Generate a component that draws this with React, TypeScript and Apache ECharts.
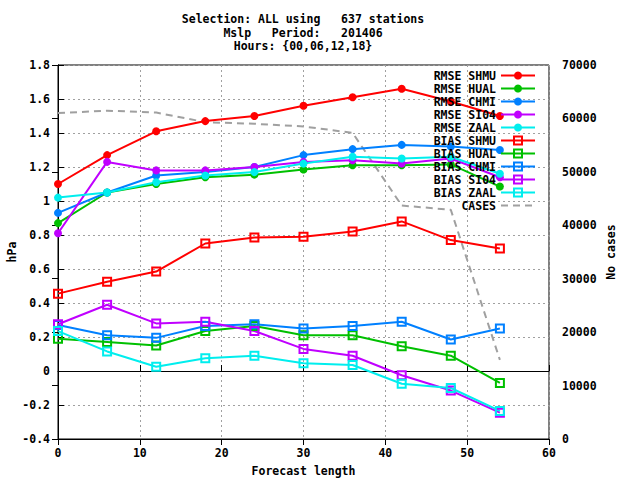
import { useEffect, useRef } from "react";
import * as echarts from "echarts";

const leadTimes = [0, 6, 12, 18, 24, 30, 36, 42, 48, 54];

const rmseShmu = [1.1, 1.27, 1.41, 1.47, 1.5, 1.56, 1.61, 1.66, 1.585, 1.5];
const rmseHual = [0.87, 1.05, 1.1, 1.14, 1.155, 1.185, 1.21, 1.21, 1.215, 1.085];
const rmseChmi = [0.93, 1.05, 1.15, 1.17, 1.2, 1.27, 1.305, 1.33, 1.32, 1.3];
const rmseSi04 = [0.81, 1.23, 1.18, 1.18, 1.2, 1.23, 1.24, 1.22, 1.25, 1.14];
const rmseZaal = [1.02, 1.05, 1.11, 1.15, 1.17, 1.22, 1.26, 1.25, 1.26, 1.16];

const biasShmu = [0.455, 0.525, 0.585, 0.75, 0.785, 0.79, 0.82, 0.88, 0.77, 0.72];
const biasHual = [0.19, 0.17, 0.15, 0.235, 0.265, 0.21, 0.21, 0.145, 0.09, -0.07];
const biasChmi = [0.27, 0.21, 0.195, 0.265, 0.275, 0.25, 0.265, 0.29, 0.185, 0.25];
const biasSi04 = [0.275, 0.39, 0.28, 0.29, 0.235, 0.13, 0.09, -0.025, -0.115, -0.245];
const biasZaal = [0.235, 0.115, 0.025, 0.075, 0.09, 0.045, 0.035, -0.075, -0.1, -0.235];

const cases = [61000, 61450, 61100, 59300, 59000, 58500, 57300, 43700, 42900, 14800];

const titleLines = [
  "Selection: ALL using   637 stations",
  "Mslp   Period:   201406",
  "Hours: {00,06,12,18}",
];

const legendNames = [
  "RMSE SHMU",
  "RMSE HUAL",
  "RMSE CHMI",
  "RMSE SI04",
  "RMSE ZAAL",
  "BIAS SHMU",
  "BIAS HUAL",
  "BIAS CHMI",
  "BIAS SI04",
  "BIAS ZAAL",
  "CASES",
];

const FONT = "DejaVu Sans Mono";
const FS = 11.5;

const RED = "#ff0000";
const GREEN = "#00c000";
const BLUE = "#0080ff";
const PURPLE = "#c000ff";
const CYAN = "#00eeee";
const GRAY = "#a0a0a0";

const pairs = (ys: number[]) => leadTimes.map((x, i) => [x, ys[i]]);

const filled = (name: string, color: string, ys: number[]) => ({
  name,
  type: "line",
  data: pairs(ys),
  symbol: "circle",
  symbolSize: 8,
  itemStyle: { color },
  lineStyle: { color, width: 2 },
  emphasis: { disabled: true },
  z: 3,
});

const open = (name: string, color: string, ys: number[]) => ({
  name,
  type: "line",
  data: pairs(ys),
  symbol: "rect",
  symbolSize: 8,
  itemStyle: { color: "rgba(0,0,0,0)", borderColor: color, borderWidth: 2 },
  lineStyle: { color, width: 2 },
  emphasis: { disabled: true },
  z: 3,
});

export default function App() {
  const ref = useRef<HTMLDivElement>(null);
  useEffect(() => {
    const chart = echarts.init(ref.current!, null, { renderer: "svg" });
    const txt = { fontFamily: FONT, fontSize: FS, fontWeight: "bold" as const, color: "#000" };
    const split = { show: true, lineStyle: { color: GRAY, width: 1, type: [2, 3] } };
    const option: any = {
      animation: false,
      textStyle: { fontFamily: FONT },
      grid: {
        left: 58,
        right: 91,
        top: 65,
        bottom: 41,
        show: true,
        borderColor: "#000",
        borderWidth: 1,
        backgroundColor: "transparent",
        outerBoundsMode: "none",
        containLabel: false,
      },
      graphic: titleLines.map((t, i) => ({
        type: "text",
        x: 303,
        y: 19 + i * 13.5,
        style: {
          text: t,
          fill: "#000",
          font: `bold ${FS}px "${FONT}"`,
          textAlign: "center",
          textVerticalAlign: "middle",
        },
      })),
      legend: {
        orient: "vertical",
        align: "right",
        right: 104,
        top: 69,
        padding: 0,
        itemGap: 0,
        itemWidth: 34,
        itemHeight: 10,
        selectedMode: false,
        textStyle: { ...txt, lineHeight: 13 },
        data: legendNames.map((n) =>
          n === "CASES" ? { name: n, itemStyle: { opacity: 0 } } : { name: n }
        ),
      },
      xAxis: [
        {
          type: "value",
          min: 0,
          max: 60,
          interval: 10,
          name: "Forecast length",
          nameLocation: "middle",
          nameGap: 26,
          nameMoveOverlap: false,
          nameTextStyle: txt,
          axisLine: { show: true, lineStyle: { color: "#000", width: 1 } },
          axisTick: { show: true, inside: true, length: 6, lineStyle: { color: "#000" } },
          axisLabel: { ...txt, margin: 8, formatter: (v: number) => String(v) },
          splitLine: split,
        },
        {
          type: "value",
          position: "top",
          min: 0,
          max: 60,
          interval: 10,
          axisLine: { show: true, lineStyle: { color: "#000", width: 1 } },
          axisTick: { show: true, inside: true, length: 6, lineStyle: { color: "#000" } },
          axisLabel: { show: false },
          splitLine: { show: false },
        },
      ],
      yAxis: [
        {
          type: "value",
          min: -0.4,
          max: 1.8,
          interval: 0.2,
          name: "hPa",
          nameLocation: "middle",
          nameRotate: 90,
          nameGap: 40,
          nameMoveOverlap: false,
          nameTextStyle: txt,
          axisLine: { show: true, lineStyle: { color: "#000", width: 1 } },
          axisTick: { show: true, inside: true, length: 6, lineStyle: { color: "#000" } },
          axisLabel: {
            ...txt,
            margin: 8,
            formatter: (v: number) => String(parseFloat(v.toFixed(2))),
          },
          splitLine: split,
        },
        {
          type: "value",
          position: "right",
          min: 0,
          max: 70000,
          interval: 10000,
          name: "No cases",
          nameLocation: "middle",
          nameRotate: 90,
          nameGap: 56,
          nameMoveOverlap: false,
          nameTextStyle: txt,
          axisLine: { show: true, lineStyle: { color: "#000", width: 1 } },
          axisTick: { show: true, inside: true, length: 6, lineStyle: { color: "#000" } },
          axisLabel: { ...txt, margin: 13, formatter: (v: number) => String(v) },
          splitLine: { show: false },
        },
      ],
      series: [
        filled("RMSE SHMU", RED, rmseShmu),
        filled("RMSE HUAL", GREEN, rmseHual),
        filled("RMSE CHMI", BLUE, rmseChmi),
        filled("RMSE SI04", PURPLE, rmseSi04),
        filled("RMSE ZAAL", CYAN, rmseZaal),
        open("BIAS SHMU", RED, biasShmu),
        open("BIAS HUAL", GREEN, biasHual),
        open("BIAS CHMI", BLUE, biasChmi),
        open("BIAS SI04", PURPLE, biasSi04),
        open("BIAS ZAAL", CYAN, biasZaal),
        {
          name: "CASES",
          type: "line",
          yAxisIndex: 1,
          data: pairs(cases),
          showSymbol: false,
          symbol: "none",
          itemStyle: { color: GRAY },
          lineStyle: { color: GRAY, width: 2, type: [7, 5] },
          emphasis: { disabled: true },
          z: 2,
        },
      ],
    };
    chart.setOption(option);
    return () => chart.dispose();
  }, []);
  return (
    <div
      ref={ref}
      style={{ position: "fixed", left: 0, top: 0, width: 640, height: 480, background: "#fff" }}
    />
  );
}
